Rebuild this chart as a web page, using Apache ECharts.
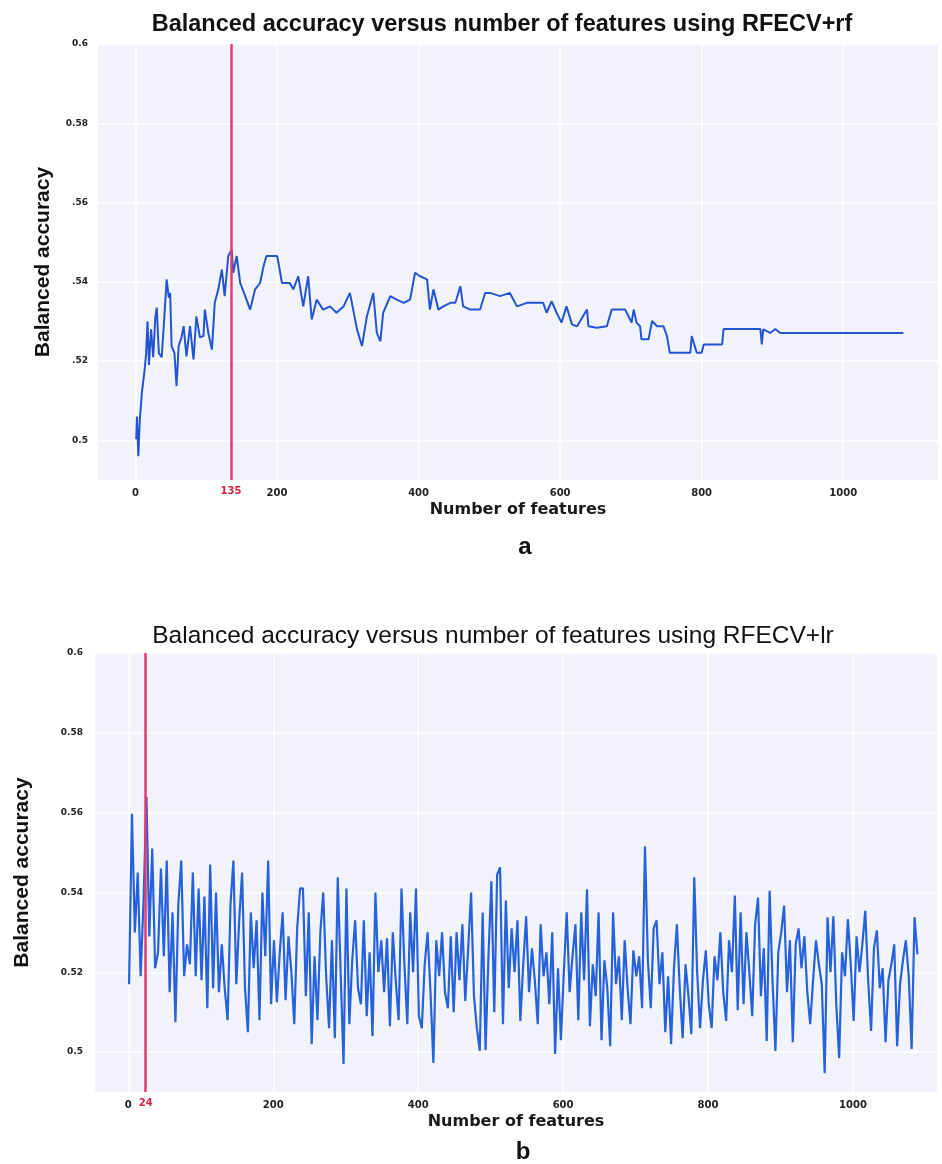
<!DOCTYPE html>
<html>
<head>
<meta charset="utf-8">
<script src="https://cdn.jsdelivr.net/npm/echarts@6/dist/echarts.min.js"></script>
<style>
  html, body { margin: 0; padding: 0; background: #fff; }
  #main { width: 942px; height: 1164px; }
</style>
</head>
<body>
<div id="main"></div>
<script>
var myChart = echarts.init(document.getElementById('main'))

// axis ticks
var xTicks = [0, 200, 400, 600, 800, 1000]
var yTicks = [0.5, 0.52, 0.54, 0.56, 0.58, 0.6]
var topYLabels = ['0.5', '.52', '.54', '.56', '0.58', '0.6']
var bottomYLabels = ['0.5', '0.52', '0.54', '0.56', '0.58', '0.6']

// RFECV+rf : [number of features, balanced accuracy]
var rfPoints = [
  [1, 0.5003], [2, 0.506], [4, 0.496], [6, 0.505], [9, 0.512], [13, 0.518], [15, 0.522],
  [17, 0.530], [19, 0.519], [22, 0.528], [25, 0.521], [28, 0.531], [30, 0.5335], [33, 0.522],
  [37, 0.521], [40, 0.529], [44, 0.5406], [47, 0.536], [49, 0.5372], [51, 0.5238], [55, 0.522],
  [58, 0.5137], [61, 0.5238], [65, 0.526], [68, 0.5288], [72, 0.5212], [77, 0.5288], [82, 0.5204],
  [86, 0.5313], [91, 0.526], [96, 0.5263], [98, 0.533], [103, 0.527], [108, 0.5229], [112, 0.5347],
  [117, 0.5381], [122, 0.5431], [126, 0.5364], [131, 0.5465], [136, 0.5481], [138, 0.5423],
  [143, 0.5465], [148, 0.5397], [155, 0.5364], [162, 0.533], [169, 0.5381], [176, 0.5397],
  [181, 0.544], [185, 0.5465], [200, 0.5465], [202, 0.5448], [207, 0.5397], [218, 0.5397],
  [223, 0.5381], [230, 0.5414], [237, 0.5338], [244, 0.5414], [249, 0.5305], [256, 0.5355],
  [265, 0.533], [275, 0.5338], [284, 0.5322], [294, 0.5338], [303, 0.5372], [313, 0.528],
  [320, 0.5238], [327, 0.5313], [336, 0.5372], [341, 0.5271], [346, 0.525], [350, 0.5322],
  [360, 0.5364], [369, 0.5355], [379, 0.5347], [388, 0.5355], [395, 0.5423], [402, 0.5414],
  [412, 0.5406], [416, 0.533], [421, 0.5381], [428, 0.533], [435, 0.5338], [445, 0.5347],
  [452, 0.5347], [459, 0.5389], [463, 0.5338], [473, 0.533], [487, 0.533], [494, 0.5372],
  [501, 0.5372], [515, 0.5364], [529, 0.5372], [539, 0.5338], [553, 0.5347], [576, 0.5347],
  [581, 0.5322], [588, 0.5351], [595, 0.5322], [602, 0.5297], [609, 0.5338], [617, 0.5292],
  [624, 0.5288], [638, 0.533], [640, 0.5288], [652, 0.5284], [666, 0.5288], [673, 0.533],
  [680, 0.533], [692, 0.533], [701, 0.5297], [704, 0.533], [708, 0.5297], [713, 0.5288],
  [715, 0.5255], [725, 0.5255], [730, 0.5301], [737, 0.5288], [746, 0.5288], [751, 0.5263],
  [755, 0.5221], [770, 0.5221], [784, 0.5221], [786, 0.5263], [793, 0.5221], [800, 0.5221],
  [803, 0.5242], [829, 0.5242], [831, 0.5281], [883, 0.5281], [885, 0.5242], [887, 0.528],
  [897, 0.5271], [904, 0.5281], [911, 0.5271], [1085, 0.5271]
]
var rfBest = 135

// RFECV+lr : balanced accuracy, read every 4 features starting at 1
var lrStart = 1
var lrStep = 4
var lrValues = [
  0.517, 0.5597, 0.530, 0.545, 0.519, 0.538, 0.564, 0.529, 0.551, 0.521,
  0.525, 0.546, 0.524, 0.548, 0.515, 0.535, 0.5075, 0.537, 0.548, 0.519,
  0.527, 0.522, 0.545, 0.519, 0.541, 0.518, 0.539, 0.511, 0.547, 0.516,
  0.540, 0.515, 0.527, 0.516, 0.508, 0.537, 0.548, 0.517, 0.533, 0.545,
  0.516, 0.505, 0.535, 0.521, 0.533, 0.508, 0.540, 0.524, 0.548, 0.512,
  0.528, 0.5125, 0.525, 0.535, 0.513, 0.529, 0.520, 0.507, 0.531, 0.541,
  0.541, 0.514, 0.535, 0.502, 0.524, 0.508, 0.530, 0.540, 0.519, 0.506,
  0.528, 0.5035, 0.5438, 0.520, 0.497, 0.541, 0.507, 0.523, 0.533, 0.516,
  0.512, 0.533, 0.509, 0.525, 0.504, 0.540, 0.520, 0.528, 0.515, 0.5285,
  0.5065, 0.530, 0.518, 0.508, 0.541, 0.522, 0.507, 0.535, 0.520, 0.541,
  0.509, 0.506, 0.522, 0.530, 0.515, 0.4973, 0.528, 0.519, 0.530, 0.515,
  0.511, 0.529, 0.510, 0.530, 0.518, 0.532, 0.5128, 0.526, 0.540, 0.514,
  0.506, 0.5003, 0.535, 0.5005, 0.524, 0.5428, 0.510, 0.5445, 0.5463, 0.507,
  0.538, 0.516, 0.531, 0.520, 0.533, 0.5078, 0.522, 0.534, 0.515, 0.526,
  0.518, 0.507, 0.532, 0.519, 0.525, 0.512, 0.530, 0.4995, 0.521, 0.503,
  0.520, 0.535, 0.515, 0.524, 0.532, 0.508, 0.535, 0.518, 0.5408, 0.5065,
  0.522, 0.514, 0.535, 0.503, 0.523, 0.516, 0.5015, 0.535, 0.517, 0.524,
  0.508, 0.528, 0.516, 0.507, 0.5255, 0.519, 0.524, 0.511, 0.5516, 0.523,
  0.511, 0.531, 0.533, 0.517, 0.525, 0.505, 0.519, 0.502, 0.521, 0.532,
  0.516, 0.5035, 0.522, 0.514, 0.5045, 0.5438, 0.520, 0.506, 0.518, 0.5255,
  0.512, 0.506, 0.524, 0.518, 0.530, 0.515, 0.5078, 0.528, 0.520, 0.5392,
  0.5105, 0.535, 0.512, 0.530, 0.520, 0.509, 0.532, 0.5387, 0.514, 0.526,
  0.5028, 0.5404, 0.518, 0.5003, 0.525, 0.530, 0.5367, 0.515, 0.528, 0.5025,
  0.527, 0.531, 0.521, 0.529, 0.515, 0.507, 0.518, 0.528, 0.522, 0.517,
  0.4947, 0.5338, 0.520, 0.534, 0.512, 0.4985, 0.525, 0.519, 0.5333, 0.522,
  0.5078, 0.529, 0.520, 0.527, 0.5354, 0.518, 0.5053, 0.526, 0.5305, 0.516,
  0.521, 0.5025, 0.518, 0.522, 0.527, 0.5015, 0.517, 0.523, 0.528, 0.519,
  0.5008, 0.5338, 0.5245
]
var lrBest = 24

var lrPoints = []
for (let index = 0; index < lrValues.length; index++) {
  lrPoints.push([lrStart + index * lrStep, lrValues[index]])
}

var titleFont = "'Liberation Sans', Arial, sans-serif"
var tickFont = "'DejaVu Sans', Verdana, sans-serif"
var plotBg = '#f2f3fa'
var redColor = '#e8386d'

function xAxisFor(grid, min, max) {
  return {
    gridIndex: grid,
    type: 'value',
    min: min,
    max: max,
    axisLine: { show: false },
    axisTick: { show: false, customValues: xTicks },
    axisLabel: {
      customValues: xTicks,
      fontFamily: tickFont,
      fontWeight: 'bold',
      fontSize: 10,
      color: '#222',
      margin: 8,
      formatter: function (value) {
        return String(value)
      },
    },
    splitLine: { show: true, lineStyle: { color: '#ffffff', width: 1.5 } },
    name: 'Number of features',
    nameLocation: 'middle',
    nameGap: 22,
    nameTextStyle: {
      fontFamily: tickFont,
      fontWeight: 'bold',
      fontSize: 16,
      color: '#1a1a1a',
    },
  }
}

function yAxisFor(grid, labels, gap, margin) {
  return {
    gridIndex: grid,
    type: 'value',
    min: 0.49,
    max: 0.6,
    axisLine: { show: false },
    axisTick: { show: false, customValues: yTicks },
    axisLabel: {
      show: true,
      showMinLabel: true,
      showMaxLabel: true,
      customValues: yTicks,
      fontFamily: tickFont,
      fontWeight: 'bold',
      fontSize: 9,
      color: '#222',
      margin: margin,
      formatter: function (value) {
        for (let i = 0; i < yTicks.length; i++) {
          if (Math.abs(value - yTicks[i]) < 1e-6) return labels[i]
        }
        return ''
      },
    },
    splitLine: { show: true, lineStyle: { color: '#ffffff', width: 1.5 } },
    name: 'Balanced accuracy',
    nameLocation: 'middle',
    nameGap: gap,
    nameTextStyle: {
      fontFamily: "'Liberation Sans', Arial, sans-serif",
      fontWeight: 'bold',
      fontSize: 21,
      color: '#111',
    },
  }
}

function bestLine(value) {
  return {
    silent: true,
    symbol: 'none',
    lineStyle: { color: redColor, width: 2.5, type: 'solid' },
    label: {
      show: true,
      position: 'start',
      distance: 6,
      formatter: String(value),
      color: '#d8203f',
      fontFamily: tickFont,
      fontWeight: 'bold',
      fontSize: 10,
    },
    data: [{ xAxis: value }],
  }
}

var option = {
  backgroundColor: '#ffffff',
  animation: false,
  title: [
    {
      text: 'Balanced accuracy versus number of features using RFECV+rf',
      left: 497,
      top: 8,
      textAlign: 'center',
      textStyle: { fontFamily: titleFont, fontWeight: 'bold', fontSize: 23.5, color: '#111' },
    },
    {
      text: 'Balanced accuracy versus number of features using RFECV+lr',
      left: 488,
      top: 619,
      textAlign: 'center',
      textStyle: { fontFamily: titleFont, fontWeight: 'normal', fontSize: 24.5, color: '#111' },
    },
    {
      text: 'a',
      left: 520,
      top: 530,
      textAlign: 'center',
      textStyle: { fontFamily: titleFont, fontWeight: 'bold', fontSize: 24, color: '#111' },
    },
    {
      text: 'b',
      left: 518,
      top: 1135,
      textAlign: 'center',
      textStyle: { fontFamily: titleFont, fontWeight: 'bold', fontSize: 24, color: '#111' },
    },
  ],
  grid: [
    { left: 98, right: 4, top: 44, height: 436, show: true, backgroundColor: plotBg, borderWidth: 0 },
    { left: 95, right: 5, top: 653, height: 439, show: true, backgroundColor: plotBg, borderWidth: 0 },
  ],
  xAxis: [xAxisFor(0, -53, 1134), xAxisFor(1, -46, 1116)],
  yAxis: [yAxisFor(0, topYLabels, 44, 10), yAxisFor(1, bottomYLabels, 62, 12)],
  series: [
    {
      type: 'line',
      xAxisIndex: 0,
      yAxisIndex: 0,
      data: rfPoints,
      showSymbol: false,
      lineStyle: { color: '#2254d4', width: 2 },
      z: 3,
      markLine: bestLine(rfBest),
    },
    {
      type: 'line',
      xAxisIndex: 1,
      yAxisIndex: 1,
      data: lrPoints,
      showSymbol: false,
      lineStyle: { color: '#2662dc', width: 2.2 },
      z: 3,
      markLine: bestLine(lrBest),
    },
  ],
}

myChart.setOption(option)
</script>
</body>
</html>
